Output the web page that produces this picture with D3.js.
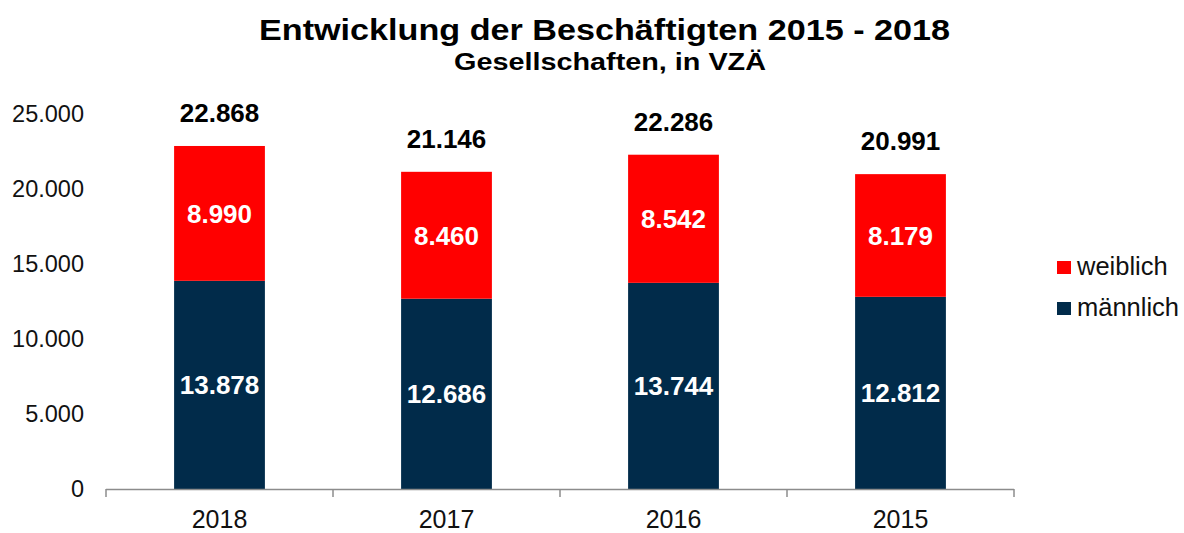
<!DOCTYPE html>
<html>
<head>
<meta charset="utf-8">
<script src="https://cdn.jsdelivr.net/npm/d3@7"></script>
<style>
  body { margin: 0; background: #fff; }
  svg text { font-family: "Liberation Sans", Arial, sans-serif; }
</style>
</head>
<body>
<svg width="1184" height="533"></svg>
<script>
// data
const years = ["2018", "2017", "2016", "2015"];
const maennlich = [13878, 12686, 13744, 12812];
const weiblich = [8990, 8460, 8542, 8179];
const yTicks = [0, 5000, 10000, 15000, 20000, 25000];

const colors = { weiblich: "#ff0000", maennlich: "#012b4a" };
const fmt = d3.formatLocale({ decimal: ",", thousands: ".", grouping: [3] }).format(",d");

let svg = d3.select("svg");

// scales
const x = d3.scaleBand().domain(years).range([106, 1014]).paddingInner(0.6).paddingOuter(0.3);
const y = d3.scaleLinear().domain([0, 25000]).range([489, 114]);

// title
svg.append("text").attr("x", 259).attr("y", 40)
  .attr("font-size", 29).attr("font-weight", "bold")
  .attr("textLength", 691).attr("lengthAdjust", "spacingAndGlyphs")
  .text("Entwicklung der Beschäftigten 2015 - 2018");
svg.append("text").attr("x", 454).attr("y", 70)
  .attr("font-size", 23).attr("font-weight", "bold")
  .attr("textLength", 312).attr("lengthAdjust", "spacingAndGlyphs")
  .text("Gesellschaften, in VZÄ");

// y labels
svg.append("g").selectAll("text").data(yTicks).enter().append("text")
  .attr("x", 84).attr("y", d => y(d) + 8).attr("text-anchor", "end")
  .attr("font-size", 23.5).attr("fill", "#111").text(d => fmt(d));

// stacked bars
let data = years.map((yr, i) => ({ year: yr, m: maennlich[i], w: weiblich[i] }));
let bars = svg.append("g");
bars.selectAll(".m").data(data).enter().append("rect")
  .attr("x", d => x(d.year)).attr("width", x.bandwidth())
  .attr("y", d => y(d.m)).attr("height", d => y(0) - y(d.m))
  .attr("fill", colors.maennlich);
bars.selectAll(".w").data(data).enter().append("rect")
  .attr("x", d => x(d.year)).attr("width", x.bandwidth())
  .attr("y", d => y(d.m + d.w)).attr("height", d => y(d.m) - y(d.m + d.w))
  .attr("fill", colors.weiblich);

// labels in bars
let labels = svg.append("g").attr("font-size", 26).attr("font-weight", "bold").attr("text-anchor", "middle");
labels.selectAll(".lm").data(data).enter().append("text")
  .attr("x", d => x(d.year) + x.bandwidth() / 2).attr("y", d => y(d.m / 2) + 9.5)
  .attr("fill", "#fff").text(d => fmt(d.m));
labels.selectAll(".lw").data(data).enter().append("text")
  .attr("x", d => x(d.year) + x.bandwidth() / 2).attr("y", d => y(d.m + d.w / 2) + 9.5)
  .attr("fill", "#fff").text(d => fmt(d.w));
labels.selectAll(".lt").data(data).enter().append("text")
  .attr("x", d => x(d.year) + x.bandwidth() / 2).attr("y", d => y(d.m + d.w) - 24)
  .attr("fill", "#000").text(d => fmt(d.m + d.w));

// x axis
const axisColor = "#8c8c8c";
svg.append("line").attr("x1", 106).attr("x2", 1014).attr("y1", 489.5).attr("y2", 489.5)
  .attr("stroke", axisColor).attr("stroke-width", 1.5);
let bounds = d3.range(years.length + 1).map(i => 106 + i * (908 / years.length));
svg.append("g").selectAll("line").data(bounds).enter().append("line")
  .attr("x1", d => d).attr("x2", d => d).attr("y1", 489).attr("y2", 497)
  .attr("stroke", axisColor).attr("stroke-width", 1.5);
svg.append("g").selectAll("text").data(years).enter().append("text")
  .attr("x", d => x(d) + x.bandwidth() / 2).attr("y", 528).attr("text-anchor", "middle")
  .attr("font-size", 25).attr("fill", "#111").text(d => d);

// legend
let legend = [["weiblich", colors.weiblich], ["männlich", colors.maennlich]];
let lg = svg.append("g");
legend.forEach((l, i) => {
  lg.append("rect").attr("x", 1057).attr("y", 261 + i * 41).attr("width", 14).attr("height", 13).attr("fill", l[1]);
  lg.append("text").attr("x", 1077).attr("y", 275 + i * 41).attr("font-size", 25.5).attr("fill", "#111").text(l[0]);
});
</script>
</body>
</html>
